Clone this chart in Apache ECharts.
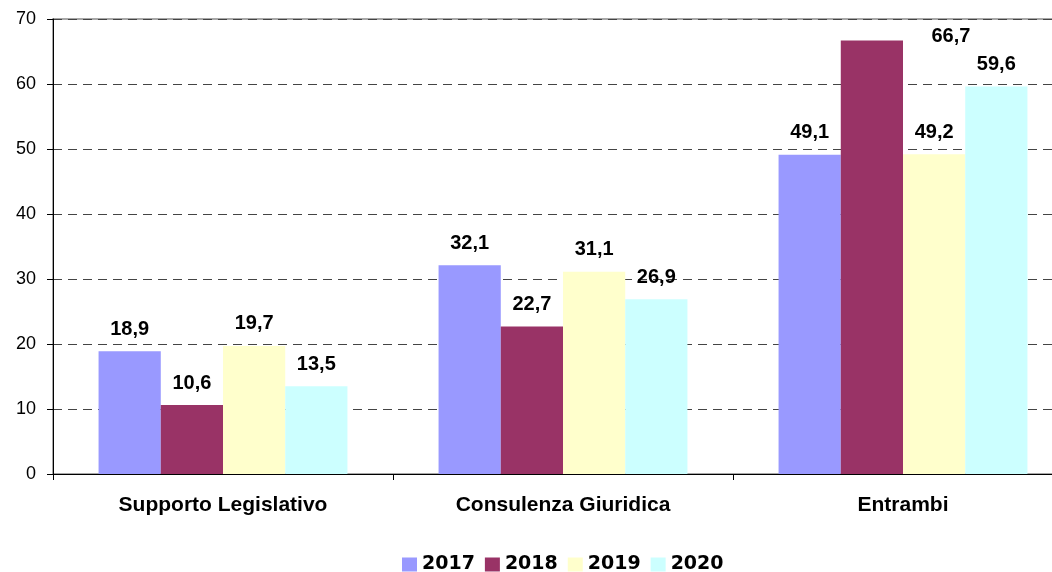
<!DOCTYPE html>
<html>
<head>
<meta charset="utf-8">
<script src="https://cdn.jsdelivr.net/npm/echarts@6/dist/echarts.min.js"></script>
<style>
  html, body { margin: 0; padding: 0; background: #fff; overflow: hidden; }
  /* the original plot runs past the right edge of the picture */
  #chart { width: 1074px; height: 572px; }
</style>
</head>
<body>
<div id="chart"></div>
<script>
const categories = ['Supporto Legislativo', 'Consulenza Giuridica', 'Entrambi']
const years = ['2017', '2018', '2019', '2020']
const v2017 = [18.9, 32.1, 49.1]
const v2018 = [10.6, 22.7, 66.7]
const v2019 = [19.7, 31.1, 49.2]
const v2020 = [13.5, 26.9, 59.6]
const yTicks = [0, 10, 20, 30, 40, 50, 60, 70]

const colors = ['#9999FF', '#993366', '#FFFFCC', '#CCFFFF']
const font = '"Liberation Sans", Arial, sans-serif'

const chart = echarts.init(document.getElementById('chart'))

function fmt(v) {
  return v.toFixed(1).replace('.', ',')
}

function buildSeries(name, values, idx) {
  return {
    name,
    type: 'bar',
    barGap: '0%',
    barCategoryGap: '26.8%',
    itemStyle: { color: colors[idx] },
    label: {
      show: true,
      position: 'top',
      distance: 12,
      color: '#000',
      fontFamily: font,
      fontWeight: 'bold',
      fontSize: 20,
      formatter: (p) => fmt(p.value),
    },
    // the 2018 label on "Entrambi" sits off to the right in the original
    data: values.map((v, i) =>
      idx === 1 && i === 2 ? { value: v, label: { offset: [79, 18] } } : v
    ),
  }
}

chart.setOption({
  animation: false,
  grid: {
    left: 53,
    right: 1,
    top: 19,
    bottom: 98,
    show: true,
    borderColor: '#8a8a8a',
    borderWidth: 1.5,
  },
  legend: {
    data: years,
    left: 397,
    top: 550,
    itemWidth: 15,
    itemHeight: 14,
    itemGap: 10,
    icon: 'rect',
    textStyle: { color: '#000', fontFamily: '"DejaVu Sans", sans-serif', fontWeight: 'bold', fontSize: 19 },
  },
  xAxis: {
    type: 'category',
    data: categories,
    axisLine: { lineStyle: { color: '#000', width: 1 } },
    axisTick: { show: true, length: 6, lineStyle: { color: '#000' } },
    axisLabel: {
      color: '#000',
      fontFamily: font,
      fontWeight: 'bold',
      fontSize: 21,
      margin: 21,
    },
  },
  yAxis: {
    type: 'value',
    min: yTicks[0],
    max: yTicks[yTicks.length - 1],
    interval: 10,
    axisLine: { show: true, lineStyle: { color: '#000', width: 1 } },
    axisTick: { show: true, length: 6, lineStyle: { color: '#000' } },
    axisLabel: { color: '#000', fontFamily: font, fontSize: 18, margin: 17 },
    splitLine: { lineStyle: { color: '#444', type: [9, 6], width: 1 } },
  },
  series: [
    buildSeries(years[0], v2017, 0),
    buildSeries(years[1], v2018, 1),
    buildSeries(years[2], v2019, 2),
    buildSeries(years[3], v2020, 3),
  ],
})
</script>
</body>
</html>
